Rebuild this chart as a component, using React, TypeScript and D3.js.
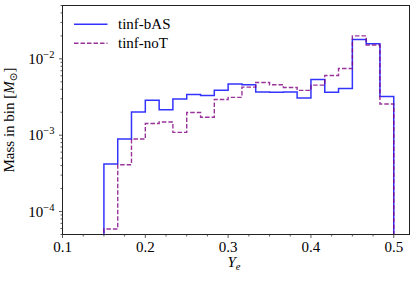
import React from "react";
import * as d3 from "d3";

// Ye bin edges (21 bins between 0.15 and 0.5)
const binEdges = [
  0.15, 0.1667, 0.1833, 0.2, 0.2167, 0.2333, 0.25, 0.2667, 0.2833, 0.3, 0.3167,
  0.3333, 0.35, 0.3667, 0.3833, 0.4, 0.4167, 0.4333, 0.45, 0.4667, 0.4833, 0.5,
];

// mass per bin [Msun]
const massBAS = [
  4.2e-4, 8.9e-4, 2.01e-3, 2.86e-3, 2.16e-3, 2.97e-3, 3.4e-3, 3.3e-3, 3.87e-3,
  4.69e-3, 4.58e-3, 3.67e-3, 3.64e-3, 3.67e-3, 3.06e-3, 5.37e-3, 3.64e-3,
  4.1e-3, 1.79e-2, 1.58e-2, 3.22e-3,
];
const massNoT = [
  5.9e-5, 4.1e-4, 8.9e-4, 1.42e-3, 1.49e-3, 1.09e-3, 1.98e-3, 1.72e-3, 2.94e-3,
  3.13e-3, 4.26e-3, 4.91e-3, 4.58e-3, 4.22e-3, 3.87e-3, 4.53e-3, 6.05e-3,
  7.48e-3, 2.0e-2, 1.52e-2, 2.56e-3,
];

const seriesNames = ["tinf-bAS", "tinf-noT"];
const xTicks = [0.1, 0.2, 0.3, 0.4, 0.5];
const yTicks = [1e-4, 1e-3, 1e-2];

const W = 415;
const H = 282;
const LEFT = 62.5;
const RIGHT = 409.5;
const TOP = 5.5;
const BOTTOM = 234.5;
const FONT = "'Liberation Serif', 'Times New Roman', serif";
const FS = 15;

const x = d3.scaleLinear().domain([0.1, 0.519]).range([LEFT, RIGHT]);
const y = d3.scaleLog().domain([5e-5, 5e-2]).range([BOTTOM, TOP]);

const stepPath = (vals: number[]) => {
  const pts: [number, number][] = [[x(binEdges[0]), BOTTOM + 5]];
  vals.forEach((v, i) => {
    pts.push([x(binEdges[i]), y(v)]);
    pts.push([x(binEdges[i + 1]), y(v)]);
  });
  pts.push([x(binEdges[binEdges.length - 1]), BOTTOM + 5]);
  return d3.line()(pts) || "";
};

const supLabel = (v: number) => String(Math.round(Math.log10(v))).replace("-", "\u2212");

export default function App() {
  const xMinor = d3.range(0.125, 0.52, 0.025).filter(
    (t) => !xTicks.some((m) => Math.abs(m - t) < 1e-6)
  );
  const yMinor: number[] = [];
  [1e-5, 1e-4, 1e-3, 1e-2].forEach((d) => {
    for (let k = 2; k <= 9; k++) {
      const v = k * d;
      if (v >= 5e-5 && v <= 5e-2) yMinor.push(v);
    }
  });

  return (
    <svg
      width={W}
      height={H}
      style={{ position: "absolute", left: 0, top: 0, background: "#fff" }}
      fontFamily={FONT}
    >
      <defs>
        <clipPath id="plot">
          <rect x={LEFT} y={TOP} width={RIGHT - LEFT} height={BOTTOM - TOP} />
        </clipPath>
      </defs>

      <g clipPath="url(#plot)" fill="none">
        <path d={stepPath(massBAS)} stroke="#0000ff" strokeOpacity={0.8} strokeWidth={1.5} />
        <path
          d={stepPath(massNoT)}
          stroke="#800080"
          strokeOpacity={0.8}
          strokeWidth={1.4}
          strokeDasharray="4.5,2"
        />
      </g>

      <rect
        x={LEFT}
        y={TOP}
        width={RIGHT - LEFT}
        height={BOTTOM - TOP}
        fill="none"
        stroke="#222"
        strokeWidth={1}
      />

      {/* x axis */}
      <g stroke="#333" strokeWidth={0.8}>
        {xTicks.map((t) => (
          <line key={t} x1={x(t)} x2={x(t)} y1={BOTTOM} y2={BOTTOM + 3.5} />
        ))}
        {xMinor.map((t) => (
          <line key={t} x1={x(t)} x2={x(t)} y1={BOTTOM} y2={BOTTOM + 2} />
        ))}
      </g>
      <g fontSize={FS} textAnchor="middle">
        {xTicks.map((t) => (
          <text key={t} x={x(t)} y={252}>
            {d3.format(".1f")(t)}
          </text>
        ))}
      </g>
      <text x={(LEFT + RIGHT) / 2 - 2} y={267} fontSize={FS} textAnchor="middle">
        <tspan fontStyle="italic">Y</tspan>
        <tspan fontStyle="italic" fontSize={10.5} dy={3}>e</tspan>
      </text>

      {/* y axis */}
      <g stroke="#333" strokeWidth={0.8}>
        {yTicks.map((t) => (
          <line key={t} x1={LEFT - 3.5} x2={LEFT} y1={y(t)} y2={y(t)} />
        ))}
        {yMinor.map((t) => (
          <line key={t} x1={LEFT - 2} x2={LEFT} y1={y(t)} y2={y(t)} />
        ))}
      </g>
      <g fontSize={FS} textAnchor="end">
        {yTicks.map((t) => (
          <text key={t} x={LEFT - 8} y={y(t) + 5}>
            <tspan>10</tspan>
            <tspan fontSize={10.5} dy={-6}>{supLabel(t)}</tspan>
          </text>
        ))}
      </g>
      <text
        transform={`translate(14,${(TOP + BOTTOM) / 2}) rotate(-90)`}
        fontSize={FS}
        textAnchor="middle"
      >
        <tspan>Mass in bin [</tspan>
        <tspan fontStyle="italic">M</tspan>
        <tspan fontSize={10.5} dy={3} fontFamily="'DejaVu Sans', sans-serif">{"\u2299"}</tspan>
        <tspan dy={-3}>]</tspan>
      </text>

      {/* legend */}
      <g>
        <line x1={74} x2={107.5} y1={24.3} y2={24.3} stroke="#0000ff" strokeOpacity={0.8} strokeWidth={1.5} />
        <line
          x1={74}
          x2={107.5}
          y1={43.3}
          y2={43.3}
          stroke="#800080"
          strokeOpacity={0.8}
          strokeWidth={1.4}
          strokeDasharray="4.5,2"
        />
        <text x={118} y={29} fontSize={FS}>{seriesNames[0]}</text>
        <text x={118} y={48} fontSize={FS}>{seriesNames[1]}</text>
      </g>
    </svg>
  );
}
